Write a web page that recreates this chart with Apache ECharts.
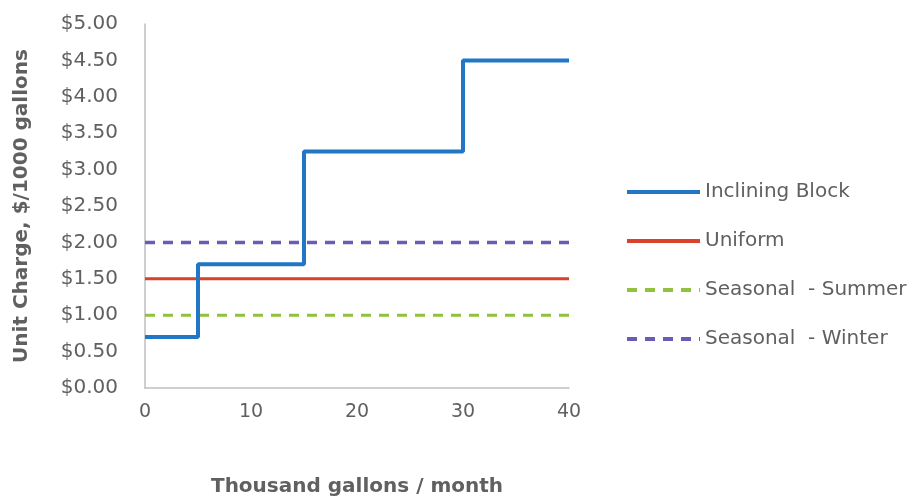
<!DOCTYPE html>
<html><head><meta charset="utf-8">
<script src="https://cdn.jsdelivr.net/npm/echarts@6/dist/echarts.min.js"></script>
<style>html,body{margin:0;padding:0;background:#fff}#c{width:922px;height:499px}</style>
</head><body><div id="c"></div>
<script>
const blockStarts = [0, 5, 15, 30, 40];
const blockRates = [0.70, 1.70, 3.25, 4.50, 4.50];
const xRange = [0, 40];
const uniformRate = [1.50, 1.50];
const summerRate = [1.00, 1.00];
const winterRate = [2.00, 2.00];
const seriesNames = ['Inclining Block', 'Uniform', 'Seasonal  - Summer', 'Seasonal  - Winter'];
const yTicks = [0, 0.5, 1, 1.5, 2, 2.5, 3, 3.5, 4, 4.5, 5];
const xTicks = [0, 10, 20, 30, 40];

const pairs = (xs, ys) => xs.map((x, i) => [x, ys[i]]);
const txt = '#606060', font = 'DejaVu Sans';
const chart = echarts.init(document.getElementById('c'));
chart.setOption({
  animation: false,
  textStyle: { fontFamily: font },
  grid: { left: 145, right: 353, top: 24, bottom: 111, outerBoundsMode: 'none', containLabel: false },
  xAxis: {
    type: 'value', min: xTicks[0], max: xTicks[xTicks.length - 1], interval: 10,
    name: 'Thousand gallons / month', nameLocation: 'middle', nameGap: 89,
    nameTextStyle: { color: txt, fontSize: 20, fontWeight: 'bold', fontFamily: font },
    axisLine: { lineStyle: { color: '#bfbfbf', width: 1.5 } },
    axisTick: { show: false }, splitLine: { show: false },
    axisLabel: { color: txt, fontSize: 19, margin: 15, fontFamily: font }
  },
  yAxis: {
    type: 'value', min: yTicks[0], max: yTicks[yTicks.length - 1], interval: 0.5,
    name: 'Unit Charge, $/1000 gallons', nameLocation: 'middle', nameGap: 113,
    nameTextStyle: { color: txt, fontSize: 20, fontWeight: 'bold', fontFamily: font },
    axisLine: { show: true, lineStyle: { color: '#bfbfbf', width: 1.5 } },
    axisTick: { show: false }, splitLine: { show: false },
    axisLabel: { color: txt, fontSize: 20, margin: 27, fontFamily: font, formatter: v => '$' + v.toFixed(2) }
  },
  legend: {
    orient: 'vertical', left: 625, top: 182, padding: 0, itemGap: 29, itemWidth: 73, itemHeight: 20,
    itemStyle: { opacity: 0 },
    lineStyle: { width: 4 },
    textStyle: { color: txt, fontSize: 20, fontFamily: font, padding: [0, 0, 0, 0] },
    data: seriesNames
  },
  series: [
    { name: seriesNames[0], type: 'line', step: 'end', symbol: 'none', data: pairs(blockStarts, blockRates),
      lineStyle: { color: '#2176c6', width: 4 }, itemStyle: { color: '#2176c6' }, z: 5 },
    { name: seriesNames[1], type: 'line', symbol: 'none', data: pairs(xRange, uniformRate),
      lineStyle: { color: '#d9412b', width: 3 }, itemStyle: { color: '#d9412b' } },
    { name: seriesNames[2], type: 'line', symbol: 'none', data: pairs(xRange, summerRate),
      lineStyle: { color: '#92c13e', width: 3, type: [10, 8] }, itemStyle: { color: '#92c13e' } },
    { name: seriesNames[3], type: 'line', symbol: 'none', data: pairs(xRange, winterRate),
      lineStyle: { color: '#6a5bb5', width: 3.5, type: [10, 8] }, itemStyle: { color: '#6a5bb5' } }
  ]
});
</script></body></html>
